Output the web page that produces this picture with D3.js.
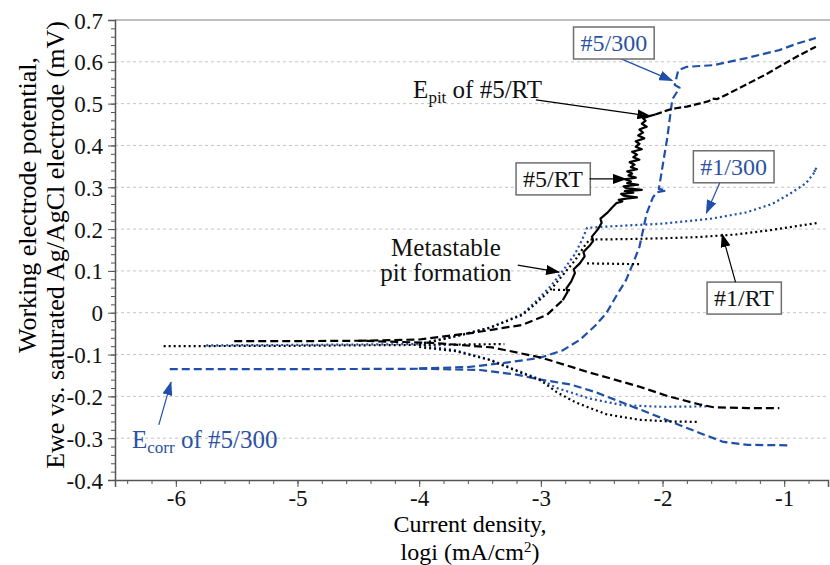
<!DOCTYPE html>
<html>
<head>
<meta charset="utf-8">
<script src="https://cdn.jsdelivr.net/npm/d3@7"></script>
<style>
  body { margin: 0; background: #fff; }
</style>
</head>
<body>
<div id="chart"></div>
<script>
// axis ticks
const xTicks = [-6, -5, -4, -3, -2, -1];
const yTicks = [0.7, 0.6, 0.5, 0.4, 0.3, 0.2, 0.1, 0, -0.1, -0.2, -0.3, -0.4];

// curves, [log i, E]
// #5/RT (black)
const rt5Cathodic = [[-5.52,-0.068],[-5.0,-0.068],[-4.5,-0.067],[-3.9,-0.072],[-3.4,-0.083],[-3.0,-0.107],
  [-2.6,-0.143],[-2.2,-0.176],[-1.95,-0.2],[-1.7,-0.219],[-1.58,-0.226],[-1.3,-0.228],[-1.04,-0.228]];
const rt5AnodicLow = [[-4.5,-0.067],[-4.0,-0.064],[-3.56,-0.048],[-3.15,-0.029],[-2.95,-0.005],[-2.82,0.03]];
const rt5Noisy = [[-2.82,0.03],[-2.78,0.05],[-2.79,0.058],[-2.75,0.075],[-2.72,0.095],[-2.73,0.104],[-2.68,0.118],
  [-2.64,0.135],[-2.65,0.145],[-2.6,0.16],[-2.57,0.172],[-2.58,0.182],[-2.53,0.2],[-2.5,0.215],[-2.51,0.225],
  [-2.45,0.24],[-2.42,0.25],[-2.38,0.262],[-2.33,0.266],[-2.36,0.27],[-2.30,0.273],[-2.21,0.276],[-2.32,0.28],
  [-2.34,0.284],[-2.24,0.287],[-2.31,0.291],[-2.17,0.294],[-2.30,0.298],[-2.32,0.302],[-2.20,0.306],[-2.29,0.31],
  [-2.26,0.314],[-2.31,0.319],[-2.22,0.323],[-2.28,0.328],[-2.25,0.333],[-2.29,0.338],[-2.21,0.343],[-2.26,0.348],
  [-2.23,0.354],[-2.27,0.36],[-2.19,0.366],[-2.24,0.372],[-2.21,0.378],[-2.25,0.385],[-2.17,0.391],[-2.22,0.397],
  [-2.19,0.404],[-2.22,0.41],[-2.15,0.417],[-2.20,0.424],[-2.16,0.431],[-2.19,0.438],[-2.13,0.445],[-2.17,0.452],
  [-2.14,0.459],[-2.16,0.465],[-2.11,0.47],[-2.06,0.474]];
const rt5Passive = [[-2.06,0.474],[-2.02,0.478],[-1.95,0.485],[-1.89,0.489],[-1.8,0.493],[-1.7,0.5],[-1.62,0.506],
  [-1.59,0.512],[-1.55,0.511],[-1.45,0.525],[-1.29,0.549],[-1.15,0.57],[-1.02,0.592],[-0.88,0.615],[-0.74,0.636]];

// #1/RT (black dotted)
const rt1Flat = [[-6.1,-0.08],[-5.0,-0.079],[-4.0,-0.077],[-3.3,-0.075]];
const rt1Cathodic = [[-4.0,-0.082],[-3.7,-0.092],[-3.42,-0.113],[-3.15,-0.145],[-3.0,-0.162],[-2.87,-0.19],
  [-2.71,-0.215],[-2.46,-0.243],[-2.19,-0.256],[-1.94,-0.26],[-1.71,-0.261]];
const rt1Anodic = [[-4.0,-0.076],[-3.69,-0.056],[-3.42,-0.036],[-3.15,-0.005],[-3.05,0.02],[-2.92,0.055],
  [-2.82,0.09],[-2.72,0.125],[-2.64,0.16],[-2.6,0.175],[-2.3,0.176],[-2.0,0.178],[-1.7,0.181],[-1.4,0.187],
  [-1.1,0.198],[-0.9,0.207],[-0.72,0.215]];
const rt1Metastable1 = [[-2.9,0.055],[-2.74,0.054]];
const rt1Metastable2 = [[-2.62,0.118],[-2.17,0.116]];

// #1/300 (blue dotted)
const h1Flat = [[-5.75,-0.078],[-5.0,-0.077],[-4.0,-0.075]];
const h1Cathodic = [[-4.0,-0.077],[-3.7,-0.09],[-3.42,-0.112],[-3.15,-0.143],[-3.0,-0.16],[-2.87,-0.18],
  [-2.6,-0.205],[-2.33,-0.221],[-2.0,-0.225],[-1.64,-0.224]];
const h1Anodic = [[-4.0,-0.074],[-3.69,-0.055],[-3.42,-0.036],[-3.15,-0.003],[-3.05,0.025],[-2.93,0.06],
  [-2.82,0.1],[-2.72,0.14],[-2.66,0.175],[-2.62,0.203],[-2.4,0.207],[-2.0,0.213],[-1.6,0.225],[-1.31,0.24],
  [-1.1,0.26],[-0.95,0.285],[-0.82,0.31],[-0.78,0.325],[-0.74,0.34],[-0.76,0.338],[-0.72,0.35]];

// #5/300 (blue dashed)
const h5Flat = [[-6.05,-0.135],[-5.0,-0.135],[-4.0,-0.134]];
const h5Cathodic = [[-4.0,-0.134],[-3.5,-0.137],[-3.2,-0.148],[-3.0,-0.16],[-2.75,-0.172],[-2.55,-0.19],
  [-2.25,-0.224],[-1.97,-0.256],[-1.7,-0.287],[-1.5,-0.309],[-1.3,-0.316],[-0.97,-0.317]];
const h5Anodic = [[-4.0,-0.133],[-3.6,-0.13],[-3.3,-0.12],[-3.01,-0.108],[-2.82,-0.09],[-2.68,-0.065],
  [-2.55,-0.03],[-2.46,0.0],[-2.38,0.04],[-2.30,0.078],[-2.24,0.12],[-2.19,0.157],[-2.13,0.238],[-2.08,0.275],
  [-2.05,0.288],[-1.97,0.292],[-2.03,0.296],[-2.0,0.35],[-1.96,0.42],[-1.92,0.51],[-1.86,0.538],[-1.9,0.545],
  [-1.87,0.58],[-1.8,0.588],[-1.58,0.592],[-1.31,0.609],[-1.04,0.628],[-0.9,0.643],[-0.74,0.657]];

const blue = "#1f4fa8";
const textBlue = "#2c52a3";
const serif = "Liberation Serif";

const width = 830, height = 565;
const svg = d3.select("#chart").append("svg")
  .attr("width", width).attr("height", height)
  .attr("font-family", serif);

const x = d3.scaleLinear().domain([-6.5, -0.64]).range([115, 828]);
const y = d3.scaleLinear().domain([-0.4, 0.7]).range([480, 20]);

// arrow heads
const defs = svg.append("defs");
[["ahBlack", "#000"], ["ahBlue", blue]].forEach(([id, c]) => {
  defs.append("marker").attr("id", id)
    .attr("markerUnits", "userSpaceOnUse")
    .attr("markerWidth", 14).attr("markerHeight", 10)
    .attr("refX", 13).attr("refY", 5).attr("orient", "auto")
    .append("path").attr("d", "M0,0 L14,5 L0,10 Z").attr("fill", c);
});

// grid
svg.append("g").selectAll("line")
  .data(yTicks.filter(d => d > -0.4 && d < 0.7))
  .enter().append("line")
    .attr("x1", 115).attr("x2", 828)
    .attr("y1", d => y(d)).attr("y2", d => y(d))
    .attr("stroke", "#c4c4c4").attr("stroke-width", 1)
    .attr("stroke-dasharray", "3,3");

// top border
svg.append("line").attr("x1", 115).attr("x2", 830).attr("y1", y(0.7)).attr("y2", y(0.7))
  .attr("stroke", "#a8a8a8").attr("stroke-width", 1.5);

// axes
const fmt = d => String(+d.toFixed(1));
const yAxis = svg.append("g").attr("transform", "translate(115,0)")
  .call(d3.axisLeft(y).tickValues(yTicks).tickSize(7).tickPadding(5).tickFormat(fmt));
svg.append("g").attr("transform", "translate(115,0)")
  .call(d3.axisLeft(y).tickValues(d3.range(-40, 70, 2).map(d => d / 100)).tickSize(4).tickFormat(""))
  .select(".domain").remove();
const xAxis = svg.append("g").attr("transform", "translate(0,480)")
  .call(d3.axisBottom(x).tickValues(xTicks).tickSize(7).tickPadding(3).tickFormat(d => String(d)));
svg.append("g").attr("transform", "translate(0,480)")
  .call(d3.axisBottom(x).tickValues(d3.range(-64, -6, 2).map(d => d / 10)).tickSize(4).tickFormat(""))
  .select(".domain").remove();

// d3 puts sans-serif on the axis groups; swap it for the serif face
svg.selectAll("g").attr("font-family", serif);
svg.selectAll(".domain").attr("stroke", "#555").attr("stroke-width", 1.5);
svg.selectAll(".tick line").attr("stroke", "#555");
xAxis.selectAll("text").attr("font-size", 23).attr("fill", "#111");
yAxis.selectAll("text").attr("font-size", 23).attr("fill", "#111").attr("dy", "0.35em");

// axis titles
svg.append("text").attr("text-anchor", "middle").attr("font-size", 24)
  .attr("x", 470).attr("y", 532).text("Current density,");
const xt2 = svg.append("text").attr("text-anchor", "middle").attr("font-size", 24)
  .attr("x", 470).attr("y", 560);
xt2.append("tspan").text("logi (mA/cm");
xt2.append("tspan").attr("font-size", 15).attr("dy", -8).text("2");
xt2.append("tspan").attr("dy", 8).text(")");

svg.append("text").attr("text-anchor", "middle").attr("font-size", 26)
  .attr("transform", "translate(36,205) rotate(-90)").text("Working electrode potential,");
svg.append("text").attr("text-anchor", "middle").attr("font-size", 26)
  .attr("transform", "translate(64,245) rotate(-90)").text("Ewe vs. saturated Ag/AgCl electrode (mV)");

// curves
const line = d3.line().x(d => x(d[0])).y(d => y(d[1]));
const curves = [
  { data: h5Flat, color: blue, dash: "8,4" },
  { data: h5Cathodic, color: blue, dash: "8,4" },
  { data: h5Anodic, color: blue, dash: "8,4" },
  { data: h1Flat, color: blue, dash: "2,3" },
  { data: h1Cathodic, color: blue, dash: "2,3" },
  { data: h1Anodic, color: blue, dash: "2,3" },
  { data: rt1Flat, color: "#000", dash: "2,3" },
  { data: rt1Cathodic, color: "#000", dash: "2,3" },
  { data: rt1Anodic, color: "#000", dash: "2,3" },
  { data: rt1Metastable1, color: "#000", dash: "2,3" },
  { data: rt1Metastable2, color: "#000", dash: "2,3" },
  { data: rt5Cathodic, color: "#000", dash: "8,4" },
  { data: rt5AnodicLow, color: "#000", dash: "8,4" },
  { data: rt5Noisy, color: "#000", dash: null },
  { data: rt5Passive, color: "#000", dash: "7,3" }
];
svg.append("g").selectAll("path").data(curves).enter().append("path")
  .attr("d", d => line(d.data))
  .attr("fill", "none")
  .attr("stroke", d => d.color)
  .attr("stroke-width", 2.2)
  .attr("stroke-linejoin", "round")
  .attr("stroke-dasharray", d => d.dash);

// annotations
const ann = svg.append("g");
function arrow(from, to, color) {
  ann.append("line")
    .attr("x1", x(from[0])).attr("y1", y(from[1]))
    .attr("x2", x(to[0])).attr("y2", y(to[1]))
    .attr("stroke", color).attr("stroke-width", 1.2)
    .attr("marker-end", color === "#000" ? "url(#ahBlack)" : "url(#ahBlue)");
}
function boxLabel(label, at, color) {
  const t = ann.append("text").attr("text-anchor", "middle").attr("font-size", 24)
    .style("font-family", serif)
    .attr("fill", color).attr("x", x(at[0])).attr("y", y(at[1])).attr("dy", "0.35em").text(label);
  const b = t.node().getBBox();
  ann.insert("rect", "text")
    .attr("x", b.x - 7).attr("y", y(at[1]) - 16).attr("width", b.width + 14).attr("height", 32)
    .attr("fill", "#fff").attr("stroke", "#6e6e6e").attr("stroke-width", 1.5);
}

arrow([-2.34, 0.607], [-1.92, 0.555], blue);
boxLabel("#5/300", [-2.40, 0.645], textBlue);

arrow([-2.60, 0.320], [-2.30, 0.320], "#000");
boxLabel("#5/RT", [-2.90, 0.320], "#111");

arrow([-1.53, 0.310], [-1.64, 0.238], blue);
boxLabel("#1/300", [-1.415, 0.349], textBlue);

arrow([-1.40, 0.073], [-1.51, 0.188], "#000");
boxLabel("#1/RT", [-1.33, 0.035], "#111");

arrow([-3.04, 0.509], [-2.10, 0.470], "#000");
const ep = ann.append("text").attr("font-size", 25).attr("fill", "#111")
  .attr("x", x(-4.05)).attr("y", y(0.513));
ep.append("tspan").text("E");
ep.append("tspan").attr("font-size", 17).attr("dy", 5).text("pit");
ep.append("tspan").attr("dy", -5).text(" of #5/RT");

arrow([-3.19, 0.114], [-2.85, 0.097], "#000");
ann.append("text").attr("text-anchor", "middle").attr("font-size", 25).attr("fill", "#111")
  .attr("x", x(-3.78)).attr("y", y(0.136)).text("Metastable");
ann.append("text").attr("text-anchor", "middle").attr("font-size", 25).attr("fill", "#111")
  .attr("x", x(-3.78)).attr("y", y(0.077)).text("pit formation");

arrow([-6.14, -0.268], [-6.04, -0.166], blue);
const ec = ann.append("text").attr("font-size", 25).attr("fill", textBlue)
  .attr("x", x(-6.36)).attr("y", y(-0.323));
ec.append("tspan").text("E");
ec.append("tspan").attr("font-size", 17).attr("dy", 5).text("corr");
ec.append("tspan").attr("dy", -5).text(" of #5/300");

// one font name only, set on every text
svg.selectAll("text").attr("font-family", serif).style("font-family", serif);
</script>
</body>
</html>
